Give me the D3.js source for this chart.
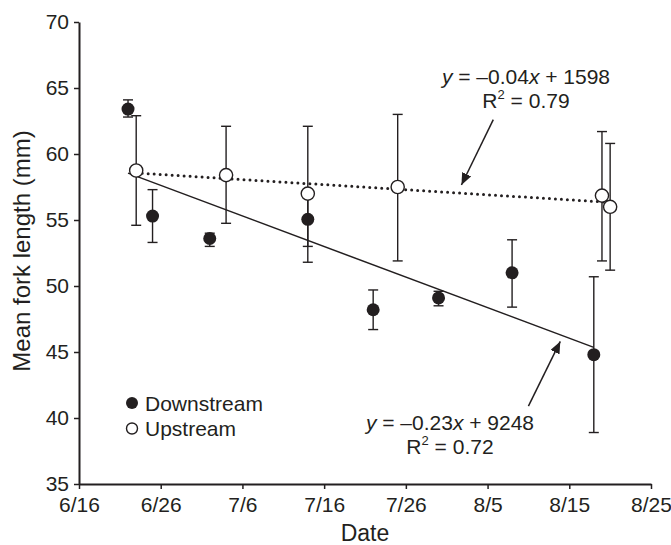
<!DOCTYPE html>
<html>
<head>
<meta charset="utf-8">
<script src="https://cdn.jsdelivr.net/npm/d3@7"></script>
<style>
  html, body { margin: 0; padding: 0; background: #fff; }
  text { font-family: "Liberation Sans", Arial, Helvetica, sans-serif; fill: #231f20; }
</style>
</head>
<body>
<svg id="chart" width="671" height="545"></svg>
<script>
'use strict';

// sampling dates (m/d) and mean fork length (mm) with error bar ends
var downDates = ['6/22', '6/25', '7/2', '7/14', '7/22', '7/30', '8/8', '8/18'];
var downMean  = [63.4, 55.3, 53.6, 55.05, 48.2, 49.1, 51.0, 44.8];
var downLow   = [62.8, 53.3, 53.0, 53.0, 46.7, 48.5, 48.4, 38.9];
var downHigh  = [64.1, 57.3, 54.0, 57.1, 49.7, 49.6, 53.5, 50.7];

var upDates = ['6/23', '7/4', '7/14', '7/25', '8/19', '8/20'];
var upMean  = [58.75, 58.4, 57.0, 57.5, 56.85, 56.0];
var upLow   = [54.6, 54.75, 51.8, 51.9, 51.9, 51.2];
var upHigh  = [62.9, 62.1, 62.1, 63.0, 61.7, 60.8];

var xTicks = ['6/16', '6/26', '7/6', '7/16', '7/26', '8/5', '8/15', '8/25'];
var yTicks = [35, 40, 45, 50, 55, 60, 65, 70];

var year = 2010;
function parseDate(s) {
  var p = s.split('/');
  return new Date(year, +p[0] - 1, +p[1]);
}

var svg = d3.select('#chart'),
    margin = { left: 79, right: 20, top: 22, bottom: 61 },
    W = 671, H = 545,
    ink = '#231f20';

var day0 = parseDate('6/16');

var x = d3.scaleTime()
    .domain([day0, parseDate('8/25')])
    .range([margin.left, W - margin.right]);
var y = d3.scaleLinear()
    .domain([35, 70])
    .range([H - margin.bottom, margin.top]);

// x position from a (fractional) day offset after 6/16
function xDay(d) { return x(new Date(day0.getTime() + d * 864e5)); }

// Axes
var xAxis = d3.axisBottom(x)
    .tickValues(xTicks.map(parseDate))
    .tickFormat(d3.timeFormat('%-m/%-d'))
    .tickSize(5).tickSizeOuter(0);
var yAxis = d3.axisLeft(y)
    .tickValues(yTicks)
    .tickSize(5).tickSizeOuter(0);

var gx = svg.append('g')
    .attr('transform', 'translate(0,' + (H - margin.bottom) + ')')
    .call(xAxis);
var gy = svg.append('g')
    .attr('transform', 'translate(' + margin.left + ',0)')
    .call(yAxis);

[gx, gy].forEach(function(g) {
  g.select('.domain').attr('stroke', ink).attr('stroke-width', 2);
  g.selectAll('.tick line').attr('stroke', ink).attr('stroke-width', 1.5);
  g.selectAll('.tick text').style('font-size', '21px').attr('fill', ink);
});
gx.selectAll('.tick text').attr('dy', '0.95em').attr('y', 8);
gy.selectAll('.tick text').attr('x', -10);

// axis titles
svg.append('text')
    .attr('x', (margin.left + W - margin.right) / 2)
    .attr('y', 541)
    .attr('text-anchor', 'middle')
    .style('font-size', '23px')
    .text('Date');
svg.append('text')
    .attr('transform', 'translate(30,' + 251 + ') rotate(-90)')
    .attr('text-anchor', 'middle')
    .style('font-size', '24px')
    .text('Mean fork length (mm)');

// least squares fit (x in days), drawn over the sampled range
function fit(dates, vals) {
  var xs = dates.map(function(s) { return d3.timeDay.count(day0, parseDate(s)); });
  var mx = d3.mean(xs), my = d3.mean(vals);
  var sxy = d3.sum(xs, function(v, i) { return (v - mx) * (vals[i] - my); });
  var sxx = d3.sum(xs, function(v) { return (v - mx) * (v - mx); });
  var b = sxy / sxx, a = my - b * mx;
  var x0 = d3.min(xs), x1 = d3.max(xs);
  return [[x0, a + b * x0], [x1, a + b * x1]];
}

var line = d3.line()
    .x(function(d) { return xDay(d[0]); })
    .y(function(d) { return y(d[1]); });

// trend lines
svg.append('path')
    .datum(fit(downDates, downMean))
    .attr('d', line)
    .attr('fill', 'none')
    .attr('stroke', ink)
    .attr('stroke-width', 1.5);
svg.append('path')
    .datum(fit(upDates, upMean))
    .attr('d', line)
    .attr('fill', 'none')
    .attr('stroke', ink)
    .attr('stroke-width', 3)
    .attr('stroke-linecap', 'round')
    .attr('stroke-dasharray', '0 6');

// series
function drawSeries(dates, mean, low, high, filled) {
  var data = dates.map(function(s, i) {
    return { date: parseDate(s), m: mean[i], lo: low[i], hi: high[i] };
  });
  var g = svg.append('g');
  var bars = g.selectAll('g.bar').data(data).enter().append('g').attr('class', 'bar');
  bars.append('line')
      .attr('x1', function(d) { return x(d.date); })
      .attr('x2', function(d) { return x(d.date); })
      .attr('y1', function(d) { return y(d.lo); })
      .attr('y2', function(d) { return y(d.hi); });
  ['lo', 'hi'].forEach(function(k) {
    bars.append('line')
        .attr('x1', function(d) { return x(d.date) - 5; })
        .attr('x2', function(d) { return x(d.date) + 5; })
        .attr('y1', function(d) { return y(d[k]); })
        .attr('y2', function(d) { return y(d[k]); });
  });
  bars.selectAll('line').attr('stroke', ink).attr('stroke-width', 1.4);
  g.selectAll('circle').data(data).enter().append('circle')
      .attr('cx', function(d) { return x(d.date); })
      .attr('cy', function(d) { return y(d.m); })
      .attr('r', filled ? 6.5 : 6.6)
      .attr('fill', filled ? ink : '#fff')
      .attr('stroke', ink)
      .attr('stroke-width', filled ? 0 : 1.4);
}
drawSeries(downDates, downMean, downLow, downHigh, true);
drawSeries(upDates, upMean, upLow, upHigh, false);

// annotations: [day offset from 6/16, value]
var arrows = [
  { from: [50.7, 62.6], to: [46.8, 57.65] },
  { from: [55.0, 40.9], to: [58.9, 45.8] }
];
var labels = [
  { pos: [54.7, 65.3], eq: ['y', ' = \u20130.04', 'x', ' + 1598'], r2: '0.79' },
  { pos: [45.4, 39.1], eq: ['y', ' = \u20130.23', 'x', ' + 9248'], r2: '0.72' }
];

svg.append('defs').append('marker')
    .attr('id', 'head')
    .attr('viewBox', '0 0 12 10')
    .attr('refX', 12).attr('refY', 5)
    .attr('markerWidth', 12).attr('markerHeight', 10)
    .attr('markerUnits', 'userSpaceOnUse')
    .attr('orient', 'auto')
  .append('path')
    .attr('d', 'M0,0L12,5L0,10Z')
    .attr('fill', ink);

svg.selectAll('line.arrow').data(arrows).enter().append('line')
    .attr('class', 'arrow')
    .attr('x1', function(d) { return xDay(d.from[0]); })
    .attr('y1', function(d) { return y(d.from[1]); })
    .attr('x2', function(d) { return xDay(d.to[0]); })
    .attr('y2', function(d) { return y(d.to[1]); })
    .attr('stroke', ink)
    .attr('stroke-width', 1.5)
    .attr('marker-end', 'url(#head)');

labels.forEach(function(l) {
  var cx = xDay(l.pos[0]);
  var t1 = svg.append('text')
      .attr('x', cx).attr('y', y(l.pos[1]))
      .attr('text-anchor', 'middle')
      .style('font-size', '21px');
  l.eq.forEach(function(s, i) {
    t1.append('tspan').style('font-style', i % 2 === 0 ? 'italic' : 'normal').text(s);
  });
  var t2 = svg.append('text')
      .attr('x', cx).attr('y', y(l.pos[1]) + 24)
      .attr('text-anchor', 'middle')
      .style('font-size', '21px');
  t2.append('tspan').text('R');
  t2.append('tspan').attr('dy', -9).style('font-size', '13px').text('2');
  t2.append('tspan').attr('dy', 9).text(' = ' + l.r2);
});

// legend
var legend = [
  { name: 'Downstream', filled: true },
  { name: 'Upstream', filled: false }
];
var lg = svg.selectAll('g.legend').data(legend).enter().append('g')
    .attr('class', 'legend')
    .attr('transform', function(d, i) { return 'translate(132,' + (403 + i * 25.5) + ')'; });
lg.append('circle')
    .attr('r', function(d) { return d.filled ? 6 : 5.5; })
    .attr('fill', function(d) { return d.filled ? ink : '#fff'; })
    .attr('stroke', ink)
    .attr('stroke-width', function(d) { return d.filled ? 0 : 1.4; });
lg.append('text')
    .attr('x', 13)
    .attr('y', 7.5)
    .style('font-size', '21px')
    .text(function(d) { return d.name; });
</script>
</body>
</html>
